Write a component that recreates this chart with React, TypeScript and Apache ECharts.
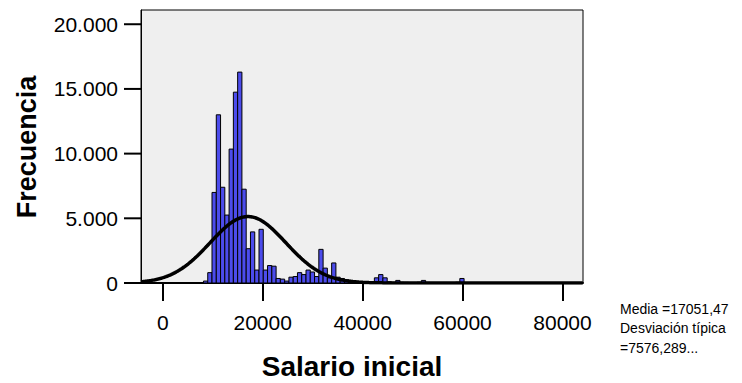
import { useEffect, useRef } from "react";
import * as echarts from "echarts";

// Histogram bins: start of first bin and constant bin width (salary units)
const BIN_START = 8150;
const BIN_WIDTH = 855;

// Frequency per bin
const counts = [
  150, 800, 7000, 13000, 7400, 5250, 10350, 14750, 16300, 7250,
  2650, 3950, 1000, 4150, 1000, 1350, 1300, 350, 300, 150,
  450, 500, 800, 650, 1000, 850, 500, 2600, 1150, 400,
  1550, 450, 350, 250, 200, 150, 100, 80, 60, 100,
  400, 650, 400, 100, 60, 200, 60, 50, 40, 40,
  60, 200, 50, 40, 30, 30, 40, 30, 30, 60,
  350, 30, 20, 20, 30, 20, 20, 20, 30, 20,
  20, 20, 20, 30, 20, 20, 20, 20, 20, 20,
  20, 20, 20, 20, 30,
];

// Summary statistics of the variable
const MEDIA = 17051.47;
const DESV = 7576.289;

const xTicks = [0, 20000, 40000, 60000, 80000];
const yTicks = [0, 5000, 10000, 15000, 20000];
const X_MIN = -4350;
const X_MAX = 84100;
const Y_MAX = 21100;

const statsLines = ["Media =17051,47", "Desviación típica", "=7576,289..."];

const FONT = "Liberation Sans, Arial, sans-serif";

const withDots = (v: number) =>
  String(Math.round(v)).replace(/\B(?=(\d{3})+(?!\d))/g, ".");

export default function App() {
  const ref = useRef<HTMLDivElement>(null);

  useEffect(() => {
    if (!ref.current) return;
    const chart = echarts.init(ref.current, null, { renderer: "svg" });

    const bars = counts
      .map((c, i) => [BIN_START + i * BIN_WIDTH, BIN_START + (i + 1) * BIN_WIDTH, c])
      .filter((d) => d[2] > 0);

    // Fitted normal curve scaled to the histogram (N * bin width)
    const total = counts.reduce((a, b) => a + b, 0);
    const peak = (total * BIN_WIDTH) / (DESV * Math.sqrt(2 * Math.PI));
    const curve: number[][] = [];
    for (let x = X_MIN; x <= X_MAX; x += 200) {
      curve.push([x, peak * Math.exp(-((x - MEDIA) ** 2) / (2 * DESV * DESV))]);
    }

    chart.setOption({
      animation: false,
      grid: {
        left: 141,
        top: 10,
        width: 442,
        height: 273,
        show: true,
        backgroundColor: "#efefef",
        borderColor: "#000",
        borderWidth: 1,
      },
      xAxis: {
        type: "value",
        min: X_MIN,
        max: X_MAX,
        splitLine: { show: false },
        axisLine: { show: true, onZero: false, lineStyle: { color: "#000", width: 2 } },
        axisTick: {
          show: true,
          customValues: xTicks,
          length: 18,
          lineStyle: { color: "#000", width: 2 },
        },
        axisLabel: {
          customValues: xTicks,
          margin: 29,
          fontSize: 21,
          fontFamily: FONT,
          color: "#000",
          formatter: (v: number) => String(v),
        },
      },
      yAxis: {
        type: "value",
        min: 0,
        max: Y_MAX,
        splitLine: { show: false },
        axisLine: { show: true, onZero: false, lineStyle: { color: "#000", width: 1 } },
        axisTick: { show: false },
        axisLabel: {
          customValues: yTicks,
          margin: 23,
          fontSize: 21,
          fontFamily: FONT,
          color: "#000",
          formatter: (v: number) => withDots(v),
        },
      },
      series: [
        {
          type: "custom",
          data: bars,
          encode: { x: [0, 1], y: 2 },
          renderItem: (_params: any, api: any) => {
            const p0 = api.coord([api.value(0), api.value(2)]);
            const p1 = api.coord([api.value(1), 0]);
            return {
              type: "rect",
              shape: { x: p0[0], y: p0[1], width: p1[0] - p0[0], height: p1[1] - p0[1] },
              style: { fill: "#4c4cec", stroke: "#000", lineWidth: 1 },
            };
          },
          z: 2,
        },
        {
          type: "line",
          data: curve,
          showSymbol: false,
          smooth: false,
          lineStyle: { color: "#000", width: 3.5 },
          z: 3,
        },
        {
          // outward tick marks on the frequency axis
          type: "custom",
          silent: true,
          clip: false,
          data: yTicks.map((v) => [X_MIN, v]),
          encode: { x: 0, y: 1 },
          renderItem: (_params: any, api: any) => {
            const c = api.coord([api.value(0), api.value(1)]);
            return {
              type: "rect",
              shape: { x: c[0] - 17, y: c[1] - 1, width: 17, height: 2 },
              style: { fill: "#000" },
            };
          },
          z: 4,
        },
      ],
      graphic: [
        {
          type: "text",
          x: 27,
          y: 147,
          rotation: Math.PI / 2,
          style: {
            text: "Frecuencia",
            align: "center",
            verticalAlign: "middle",
            font: `bold 27px ${FONT}`,
            fill: "#000",
          },
        },
        {
          type: "text",
          x: 352,
          y: 366,
          style: {
            text: "Salario inicial",
            align: "center",
            verticalAlign: "middle",
            font: `bold 28px ${FONT}`,
            fill: "#000",
          },
        },
        ...statsLines.map((t, i) => ({
          type: "text",
          x: 620,
          y: 308.5 + i * 19.5,
          style: {
            text: t,
            align: "left",
            verticalAlign: "middle",
            font: `14px ${FONT}`,
            fill: "#000",
          },
        })),
      ],
    });

    return () => chart.dispose();
  }, []);

  return (
    <div
      ref={ref}
      style={{ position: "fixed", left: 0, top: 0, width: 742, height: 383, background: "#fff" }}
    />
  );
}
